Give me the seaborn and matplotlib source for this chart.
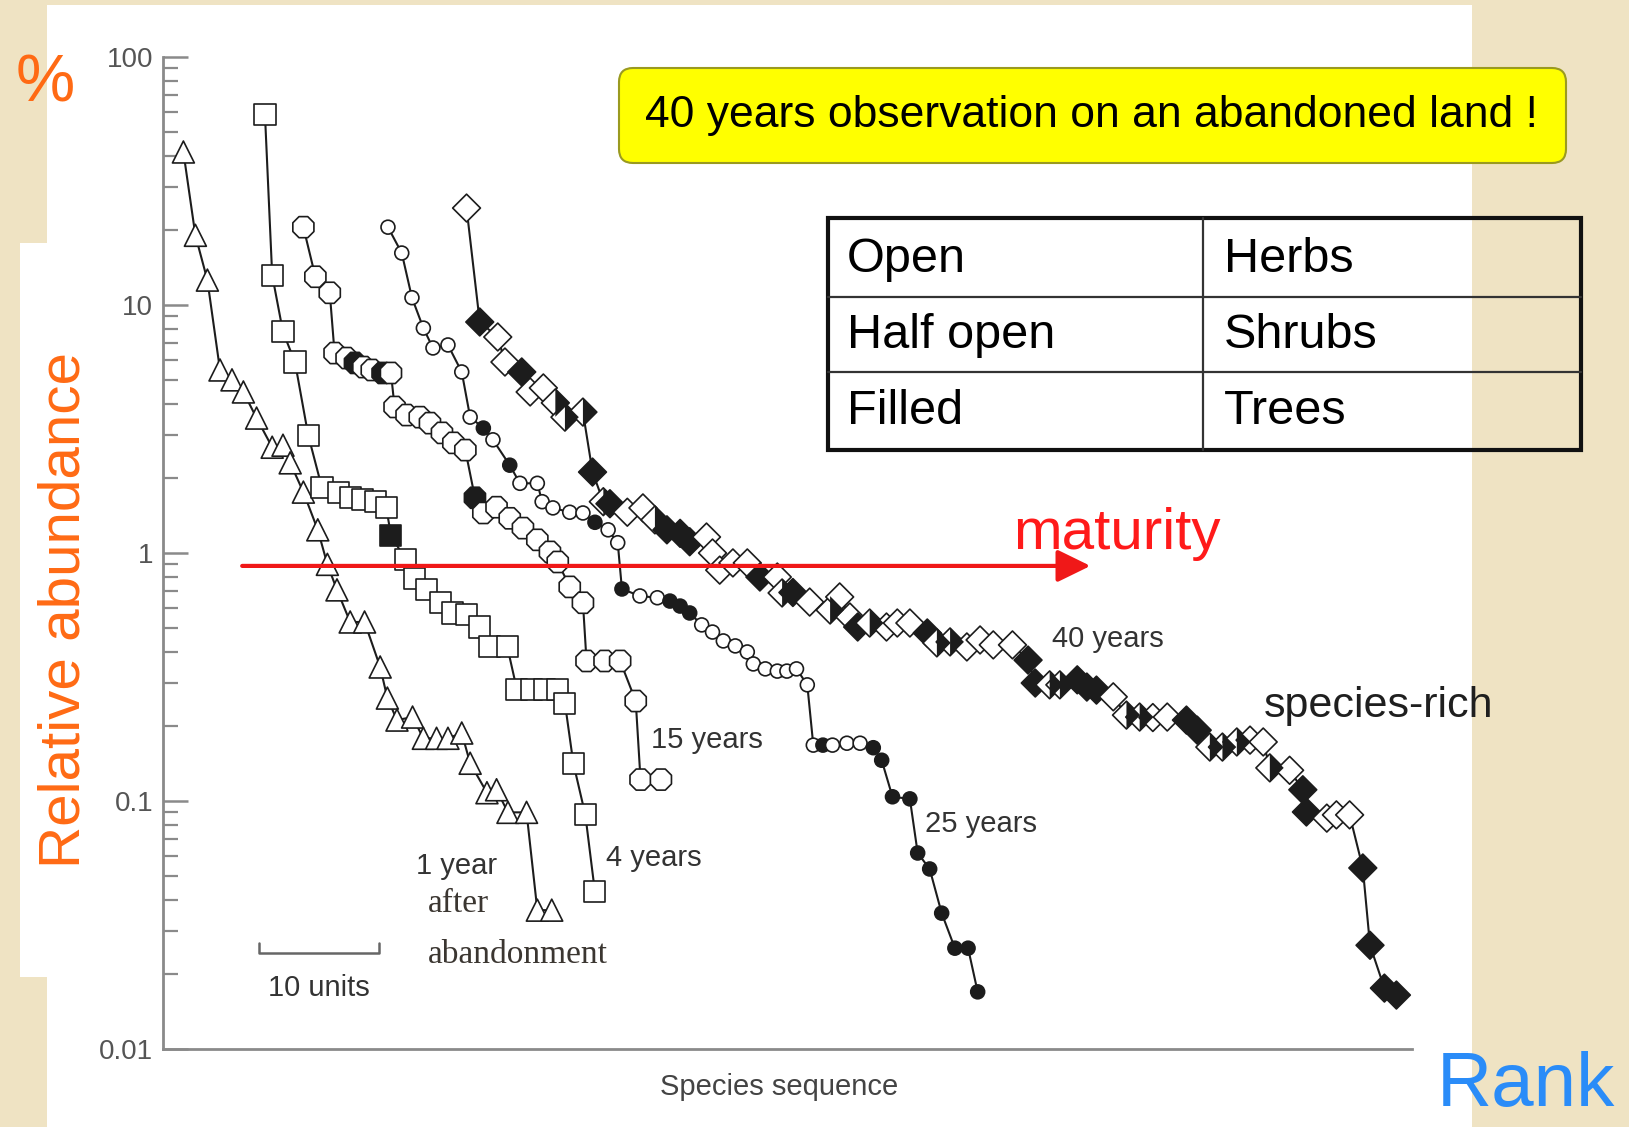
import matplotlib
matplotlib.use("Agg")
import matplotlib.pyplot as plt
from matplotlib.markers import MarkerStyle
from matplotlib.patches import Rectangle, FancyBboxPatch
from matplotlib.ticker import NullFormatter
import pandas as pd
import seaborn as sns

# ---- data (x = species sequence, y = % abundance)
# fill codes: o = open (herbs), h = half open (shrubs), f = filled (trees)
rank_1yr = [1.7, 2.7, 3.7, 4.75, 5.75, 6.7, 7.8, 9.1, 10.0, 10.6, 11.7, 12.9, 13.7, 14.5, 15.6, 16.8,
            18.1, 18.7, 19.5, 20.8, 21.7, 22.8, 23.75, 24.9, 25.6, 27.0, 27.8, 28.75, 30.3, 31.2, 32.4]
abund_1yr = [41.4, 19.1, 12.6, 5.47, 4.99, 4.46, 3.50, 2.67, 2.72, 2.31, 1.76, 1.24, 0.90, 0.71, 0.527, 0.527,
             0.347, 0.260, 0.212, 0.218, 0.179, 0.179, 0.179, 0.188, 0.142, 0.108, 0.111, 0.090, 0.090, 0.0363, 0.0363]
fill_1yr = list("o" * 31)

rank_4yr = [8.5, 9.1, 10.0, 11.0, 12.1, 13.25, 14.6, 15.6, 16.6, 17.7, 18.6, 19.0, 20.2, 21.0, 22.0, 23.1,
            24.1, 25.3, 26.4, 27.25, 28.7, 29.5, 30.75, 31.8, 32.9, 33.5, 34.2, 35.2, 36.0]
abund_4yr = [58.4, 13.2, 7.79, 5.89, 2.99, 1.83, 1.76, 1.68, 1.64, 1.61, 1.53, 1.18, 0.94, 0.79, 0.71, 0.63,
             0.573, 0.565, 0.503, 0.418, 0.418, 0.281, 0.281, 0.281, 0.281, 0.248, 0.142, 0.0879, 0.0430]
fill_4yr = list("ooooooooooo" + "f" + "ooooooooooooooooo")

rank_15yr = [11.7, 12.7, 13.9, 14.3, 15.3, 16.0, 16.7, 17.4, 18.3, 19.0, 19.3, 20.3, 21.4, 22.25, 23.25, 24.2,
             25.2, 26.0, 26.7, 27.8, 28.9, 30.0, 31.2, 32.25, 32.9, 33.9, 35.0, 35.3, 36.8, 38.1, 39.4, 39.8, 41.5]
abund_15yr = [20.6, 13.0, 11.2, 6.40, 6.11, 5.84, 5.62, 5.47, 5.32, 5.32, 3.88, 3.60, 3.53, 3.34, 3.05, 2.78,
              2.60, 1.67, 1.45, 1.53, 1.38, 1.26, 1.13, 1.01, 0.92, 0.73, 0.63, 0.367, 0.367, 0.367, 0.253, 0.122, 0.122]
fill_15yr = list("ooooofoofoooooooofoooooooooooooooo"[:33])

rank_25yr = [18.75, 19.9, 20.75, 21.7, 22.5, 23.75, 24.9, 25.6, 26.7, 27.5, 28.9, 29.75, 31.2, 31.6, 32.5, 33.9,
             35.0, 36.0, 37.1, 37.9, 38.25, 39.75, 41.2, 42.25, 43.1, 43.9, 44.9, 45.8, 46.7, 47.7, 48.7, 49.2,
             50.2, 51.2, 52.0, 52.8, 53.7, 54.2, 55.0, 55.8, 57.0, 58.1, 59.2, 59.9, 60.8, 62.25, 62.9, 63.9,
             64.9, 66.0, 67.1, 67.9]
abund_25yr = [20.6, 16.2, 10.7, 8.07, 6.71, 6.90, 5.37, 3.53, 3.19, 2.86, 2.26, 1.91, 1.91, 1.61, 1.52, 1.46,
              1.45, 1.33, 1.24, 1.10, 0.716, 0.671, 0.66, 0.640, 0.611, 0.573, 0.513, 0.480, 0.442, 0.422, 0.399, 0.357,
              0.341, 0.334, 0.334, 0.341, 0.294, 0.168, 0.168, 0.168, 0.171, 0.171, 0.164, 0.146, 0.104, 0.102, 0.0617, 0.0532,
              0.0353, 0.0255, 0.0255, 0.0170]
fill_25yr = list("oooooooofo" "foooooofoo" "foofffoooo" "oooooooofo" "ooffffffff" "ff")

rank_40yr = [25.3, 26.4, 27.9, 28.5, 29.9, 30.6, 31.7, 32.7, 33.5, 35.0, 35.8, 36.7, 37.25, 38.7, 40.0, 41.0,
             42.0, 43.1, 43.9, 45.3, 45.8, 46.4, 47.5, 48.7, 49.75, 51.2, 51.6, 52.5, 53.9, 55.6, 56.4, 57.25,
             57.9, 58.9, 60.3, 61.2, 62.25, 63.7, 64.5, 65.6, 67.0, 68.1, 69.2, 70.8, 72.1, 72.7, 73.9, 74.75,
             76.2, 77.0, 77.8, 79.2, 80.3, 81.4, 82.5, 83.7, 85.3, 86.2, 87.25, 88.3, 89.5, 90.6, 91.7, 92.25,
             93.9, 95.0, 95.3, 97.0, 97.8, 98.9, 100.0, 100.6, 101.8, 102.8]
abund_40yr = [24.6, 8.54, 7.43, 5.89, 5.37, 4.46, 4.63, 4.03, 3.53, 3.70, 2.12, 1.61, 1.58, 1.46, 1.52, 1.36,
              1.24, 1.20, 1.11, 1.16, 1.00, 0.853, 0.912, 0.912, 0.800, 0.800, 0.690, 0.693, 0.634, 0.589, 0.665, 0.552,
              0.503, 0.522, 0.503, 0.522, 0.522, 0.476, 0.434, 0.438, 0.418, 0.446, 0.426, 0.426, 0.370, 0.299, 0.294, 0.294,
              0.308, 0.288, 0.280, 0.263, 0.222, 0.218, 0.217, 0.218, 0.212, 0.193, 0.165, 0.165, 0.173, 0.176, 0.173, 0.136,
              0.133, 0.111, 0.0903, 0.0853, 0.0879, 0.0879, 0.0537, 0.0262, 0.0176, 0.0165]
fill_40yr = list("ofoofoohhh" "fhfoohfffo" "oooofohfoh" "oofhooofhh" "ooooffhhff"
                 "fohhooffhh" "hoohoffooo" "ffff")

stages = ["1 year", "4 years", "15 years", "25 years", "40 years"]
y_ticks = [0.01, 0.1, 1, 10, 100]
y_tick_labels = ["0.01", "0.1", "1", "10", "100"]
legend_rows = [("Open", "Herbs"), ("Half open", "Shrubs"), ("Filled", "Trees")]

frames = []
for stage, r, a, f in zip(stages,
                          [rank_1yr, rank_4yr, rank_15yr, rank_25yr, rank_40yr],
                          [abund_1yr, abund_4yr, abund_15yr, abund_25yr, abund_40yr],
                          [fill_1yr, fill_4yr, fill_15yr, fill_25yr, fill_40yr]):
    frames.append(pd.DataFrame({"rank": r, "abundance": a, "fill": f, "stage": stage}))
df = pd.concat(frames, ignore_index=True)

stage_markers = {"1 year": "^", "4 years": "s", "15 years": "8", "25 years": "o", "40 years": "D"}
stage_sizes = {"1 year": 250, "4 years": 230, "15 years": 270, "25 years": 100, "40 years": 200}
ink = "#1c1c1c"
fill_colors = {"o": "white", "h": "white", "f": ink}

sns.set_style("white")
plt.rcParams["font.family"] = ["Liberation Sans", "DejaVu Sans"]

W, H = 1629, 1127
fig = plt.figure(figsize=(W / 100, H / 100), dpi=100)
fig.patch.set_facecolor("#efe3c3")

# background panel (pixel coordinates)
bg = fig.add_axes([0, 0, 1, 1], zorder=0)
bg.set_xlim(0, W)
bg.set_ylim(H, 0)
bg.axis("off")
bg.add_patch(Rectangle((47, 5), 1425, H - 5, color="white", lw=0))
bg.add_patch(Rectangle((20, 243), 30, 734, color="white", lw=0))

# main chart
ax = fig.add_axes([163 / W, 1 - 1049 / H, 1249 / W, 992 / H], zorder=1)
ax.set_facecolor("none")
ax.set_yscale("log")

sns.lineplot(data=df, x="rank", y="abundance", units="stage", estimator=None, sort=False,
             color=ink, linewidth=1.5, legend=False, ax=ax, zorder=2)

for stage in stages:
    sub = df[df["stage"] == stage]
    marker = stage_markers[stage]
    sns.scatterplot(data=sub, x="rank", y="abundance", hue="fill", palette=fill_colors,
                    marker=marker, s=stage_sizes[stage], edgecolor=ink, linewidth=1.2,
                    legend=False, ax=ax, zorder=3)
    half = sub[sub["fill"] == "h"]
    if len(half):
        sns.scatterplot(data=half, x="rank", y="abundance", marker=MarkerStyle(marker, fillstyle="right"),
                        color=ink, edgecolor="none", linewidth=0, s=stage_sizes[stage],
                        legend=False, ax=ax, zorder=4)

ax.set_xlim(0, 104.1)
ax.set_ylim(0.01, 100)
ax.set_xticks([])
ax.set_yticks(y_ticks, labels=y_tick_labels)
ax.yaxis.set_minor_formatter(NullFormatter())
ax.tick_params(axis="y", which="both", left=True, direction="in", color="#8a8a8a")
ax.tick_params(axis="y", which="major", length=18, width=1.8, labelsize=20, labelcolor="#555555", pad=7)
ax.tick_params(axis="y", which="minor", length=11, width=1.6)
ax.set_xlabel("")
ax.set_ylabel("")
sns.despine(ax=ax)
for side in ["left", "bottom"]:
    ax.spines[side].set_color("#8a8a8a")
    ax.spines[side].set_linewidth(2.0)

# curve labels
lab = dict(fontsize=21, color="#333333", ha="left", va="center")
ax.text(21.1, 0.0547, "1 year", **lab)
ax.text(36.9, 0.0589, "4 years", **lab)
ax.text(40.7, 0.176, "15 years", **lab)
ax.text(63.5, 0.0807, "25 years", **lab)
ax.text(74.1, 0.450, "40 years", **lab)
serif = dict(fontsize=24, color="#3b3631", ha="left", va="center", family=["Liberation Serif", "DejaVu Serif"])
ax.text(22.1, 0.0385, "after", **serif)
ax.text(22.1, 0.0241, "abandonment", **serif)

# 10-unit scale bar
ax.plot([8, 8, 18, 18], [0.0268, 0.0244, 0.0244, 0.0268], color="#666666", lw=1.8)
ax.text(13, 0.0176, "10 units", fontsize=21, color="#333333", ha="center", va="center")

# maturity arrow
ax.annotate("", xy=(77.3, 0.887), xytext=(6.6, 0.887),
            arrowprops=dict(arrowstyle="-|>,head_length=0.45,head_width=0.22", color="#f01818",
                            lw=3, mutation_scale=45, shrinkA=0, shrinkB=0), zorder=5)

# overlay (pixel coordinates)
fg = fig.add_axes([0, 0, 1, 1], zorder=2)
fg.set_xlim(0, W)
fg.set_ylim(H, 0)
fg.axis("off")

fg.add_patch(FancyBboxPatch((619, 68), 947, 95, boxstyle="round,pad=0,rounding_size=14",
                            facecolor="#ffff00", edgecolor="#9a9a20", lw=1.5))
fg.text(1092, 116, "40 years observation on an abandoned land !", fontsize=32,
        color="black", ha="center", va="center")

fg.add_patch(Rectangle((828, 218), 753, 232, fill=False, lw=3, edgecolor="#111111"))
fg.plot([1203, 1203], [218, 450], color="#333333", lw=1.6)
fg.plot([828, 1581], [297, 297], color="#333333", lw=1.6)
fg.plot([828, 1581], [372, 372], color="#333333", lw=1.6)
for (left, right), yc in zip(legend_rows, [260, 336, 412]):
    fg.text(847, yc, left, fontsize=35, color="black", ha="left", va="center")
    fg.text(1224, yc, right, fontsize=35, color="black", ha="left", va="center")

fg.text(45, 85, "%", fontsize=48, color="#ff6a14", ha="center", va="center")
fg.text(65, 610, "Relative abundance", fontsize=42, color="#ff6a14", ha="center", va="center",
        rotation=90)
fg.text(1013, 549, "maturity", fontsize=42, color="#ff1a1a", ha="left", va="baseline")
fg.text(1264, 706, "species-rich", fontsize=31, color="#1f1f1f", ha="left", va="center")
fg.text(779, 1087, "Species sequence", fontsize=21, color="#444444", ha="center", va="center")
fg.text(1437, 1106, "Rank", fontsize=55, color="#2a8cf8", ha="left", va="baseline")

fig.savefig("out.png", dpi=100)
